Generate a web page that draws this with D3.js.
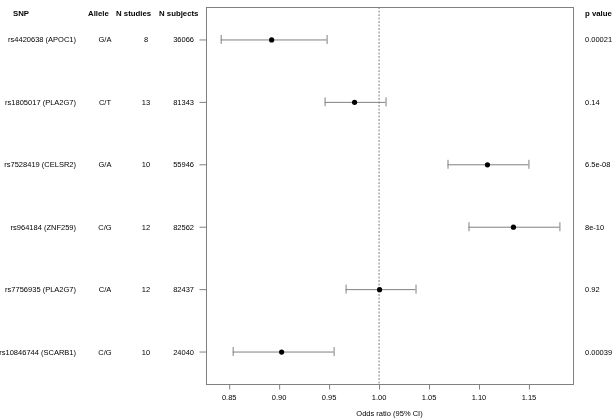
<!DOCTYPE html>
<html>
<head>
<meta charset="utf-8">
<script src="https://cdn.jsdelivr.net/npm/d3@7"></script>
<style>
  body { margin: 0; background: #fff; }
  svg { will-change: transform; }
  text { font-family: "Liberation Sans", Arial, sans-serif; font-size: 7.5px; fill: #000; }
  .hdr { font-weight: bold; font-size: 7.8px; }
</style>
</head>
<body>
<div id="chart"></div>
<script>
// forest plot data, one entry per SNP (top to bottom)
var snps = ["rs4420638 (APOC1)", "rs1805017 (PLA2G7)", "rs7528419 (CELSR2)",
            "rs964184 (ZNF259)", "rs7756935 (PLA2G7)", "rs10846744 (SCARB1)"];
var alleles = ["G/A", "C/T", "G/A", "C/G", "C/A", "C/G"];
var nStudies = [8, 13, 10, 12, 12, 10];
var nSubjects = [36066, 81343, 55946, 82562, 82437, 24040];
var oddsRatio = [0.893, 0.976, 1.109, 1.135, 1.001, 0.903];
var ciLower = [0.842, 0.946, 1.069, 1.090, 0.967, 0.854];
var ciUpper = [0.948, 1.007, 1.150, 1.181, 1.037, 0.955];
var pValues = ["0.00021", "0.14", "6.5e-08", "8e-10", "0.92", "0.00039"];
var xTicks = [0.85, 0.90, 0.95, 1.00, 1.05, 1.10, 1.15];

var W = 616, H = 419;
var box = {left: 206, right: 573, top: 7, bottom: 384};

var svg = d3.select("#chart").append("svg")
  .attr("width", W)
  .attr("height", H);

var x = d3.scaleLinear()
  .domain([0.8273, 1.1946])
  .range([box.left, box.right]);

var y = d3.scaleLinear()
  .domain([0.48, 6.52])
  .range([box.top, box.bottom]);

var rows = snps.map(function(s, i) {
  return {i: i + 1, snp: s, allele: alleles[i], ns: nStudies[i], nsub: nSubjects[i],
          or: oddsRatio[i], lo: ciLower[i], hi: ciUpper[i], p: pValues[i]};
});

// plot frame
svg.append("rect")
  .attr("x", box.left + 0.5).attr("y", box.top + 0.5)
  .attr("width", box.right - box.left).attr("height", box.bottom - box.top)
  .attr("fill", "none").attr("stroke", "#808080").attr("stroke-width", 1);

// x axis
var xAxis = svg.append("g")
  .attr("transform", "translate(0," + (box.bottom + 0.5) + ")")
  .call(d3.axisBottom(x).tickValues(xTicks).tickFormat(d3.format(".2f")).tickSize(5).tickPadding(5));
xAxis.select(".domain").remove();
xAxis.selectAll("line").attr("stroke", "#808080").attr("transform", "translate(0.5,0)");
xAxis.selectAll("text").attr("font-size", null).attr("font-family", null);
xAxis.attr("font-size", null).attr("font-family", null);

// y axis ticks
var yAxis = svg.append("g")
  .attr("transform", "translate(" + (box.left + 0.5) + ",0)")
  .call(d3.axisLeft(y).tickValues(rows.map(function(d) { return d.i; })).tickSize(7).tickFormat(""));
yAxis.select(".domain").remove();
yAxis.selectAll("line").attr("stroke", "#808080");

// reference line at OR = 1
svg.append("line")
  .attr("x1", x(1) + 0.5).attr("x2", x(1) + 0.5)
  .attr("y1", box.top).attr("y2", box.bottom)
  .attr("stroke", "#808080").attr("stroke-dasharray", "2,1.5");

// confidence intervals
var g = svg.selectAll(".row").data(rows).enter().append("g").attr("class", "row");
g.append("line")
  .attr("x1", function(d) { return x(d.lo); })
  .attr("x2", function(d) { return x(d.hi); })
  .attr("y1", function(d) { return y(d.i) + 0.5; })
  .attr("y2", function(d) { return y(d.i) + 0.5; })
  .attr("stroke", "#808080");
["lo", "hi"].forEach(function(k) {
  g.append("line")
    .attr("x1", function(d) { return x(d[k]) + 0.5; })
    .attr("x2", function(d) { return x(d[k]) + 0.5; })
    .attr("y1", function(d) { return y(d.i) - 4.5; })
    .attr("y2", function(d) { return y(d.i) + 4.5; })
    .attr("stroke", "#808080");
});
g.append("circle")
  .attr("cx", function(d) { return x(d.or); })
  .attr("cy", function(d) { return y(d.i) + 0.5; })
  .attr("r", 2.6)
  .attr("fill", "#000");

// table columns
function col(key, xpos, anchor) {
  svg.selectAll(".c-" + key).data(rows).enter().append("text")
    .attr("x", xpos)
    .attr("y", function(d) { return y(d.i) + 3; })
    .attr("text-anchor", anchor)
    .text(function(d) { return d[key]; });
}
col("snp", 76, "end");
col("allele", 105, "middle");
col("ns", 146, "middle");
col("nsub", 194, "end");
col("p", 585, "start");

// headers
var headers = [["SNP", 13, "start"], ["Allele", 88, "start"], ["N studies", 116, "start"],
               ["N subjects", 159, "start"], ["p value", 585, "start"]];
svg.selectAll(".hdr").data(headers).enter().append("text")
  .attr("class", "hdr")
  .attr("x", function(d) { return d[1]; })
  .attr("y", 16)
  .attr("text-anchor", function(d) { return d[2]; })
  .text(function(d) { return d[0]; });

// axis title
svg.append("text")
  .attr("x", (box.left + box.right) / 2)
  .attr("y", 416)
  .attr("text-anchor", "middle")
  .text("Odds ratio (95% CI)");
</script>
</body>
</html>
